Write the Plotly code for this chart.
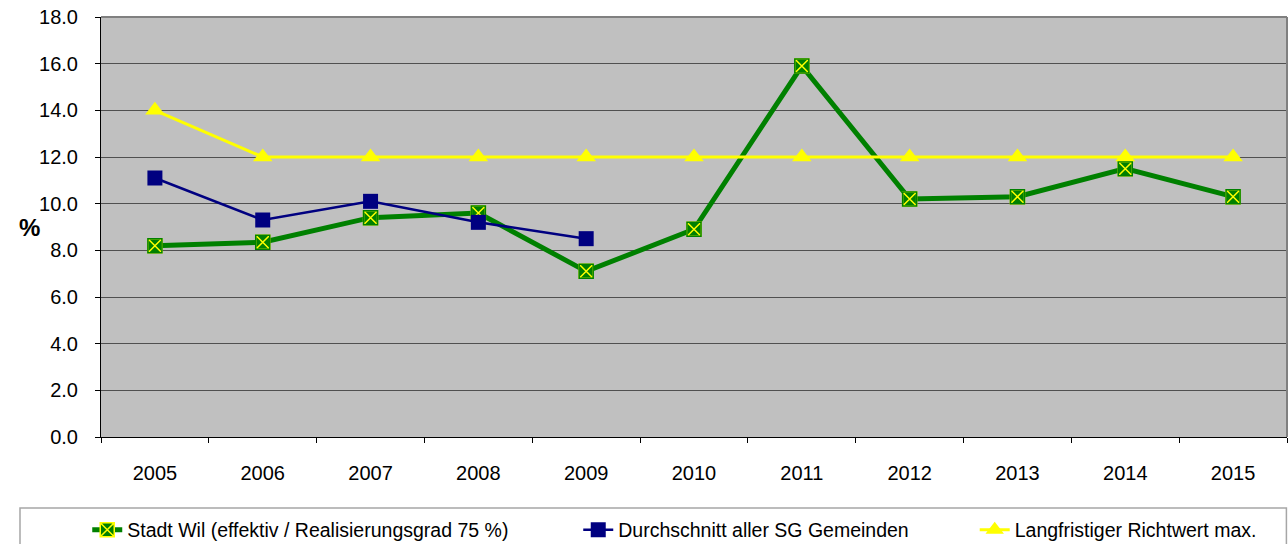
import plotly.graph_objects as go

# ---- data ----
years = ["2005", "2006", "2007", "2008", "2009", "2010", "2011", "2012", "2013", "2014", "2015"]
stadt_wil = [8.2, 8.35, 9.4, 9.6, 7.1, 8.9, 15.9, 10.2, 10.3, 11.5, 10.3]
durchschnitt_years = ["2005", "2006", "2007", "2008", "2009"]
durchschnitt = [11.1, 9.3, 10.1, 9.2, 8.5]
richtwert = [14.0, 12.0, 12.0, 12.0, 12.0, 12.0, 12.0, 12.0, 12.0, 12.0, 12.0]
y_ticks = [0, 2, 4, 6, 8, 10, 12, 14, 16, 18]

name_wil = "Stadt Wil (effektiv / Realisierungsgrad 75 %)"
name_sg = "Durchschnitt aller SG Gemeinden"
name_rw = "Langfristiger Richtwert max."

FONT = "Liberation Sans, Arial, sans-serif"

fig = go.Figure()
fig.add_trace(go.Scatter(
    x=years, y=stadt_wil, name=name_wil, mode="lines+markers",
    line=dict(color="#008000", width=5),
    marker=dict(symbol="square-x", size=14, color="#008000",
                line=dict(color="#FFFF00", width=1.5)),
    legend="legend",
))
# green outline over the yellow square edge (X stays yellow)
fig.add_trace(go.Scatter(
    x=years, y=stadt_wil, mode="markers", showlegend=False, hoverinfo="skip",
    marker=dict(symbol="square-open", size=14, color="#008000",
                line=dict(color="#008000", width=1.5)),
))
fig.add_trace(go.Scatter(
    x=durchschnitt_years, y=durchschnitt, name=name_sg, mode="lines+markers",
    line=dict(color="#000080", width=2.5),
    marker=dict(symbol="square", size=15, color="#000080"),
    legend="legend2",
))
fig.add_trace(go.Scatter(
    x=years, y=richtwert, name=name_rw, mode="lines+markers",
    line=dict(color="#FFFF00", width=3),
    marker=dict(symbol="triangle-up", size=17, color="#FFFF00"),
    legend="legend3",
))

legend_common = dict(
    orientation="h", xanchor="left", yanchor="middle",
    xref="paper", yref="container", y=0.0257,
    font=dict(family=FONT, size=19.5, color="#000000"),
    bgcolor="rgba(0,0,0,0)", borderwidth=0,
)

fig.update_layout(
    width=1288, height=544,
    margin=dict(l=101, r=1, t=17, b=107),
    paper_bgcolor="#FFFFFF",
    plot_bgcolor="#C0C0C0",
    font=dict(family=FONT, size=20, color="#000000"),
    showlegend=True,
    legend=dict(x=-0.0116, **legend_common),
    legend2=dict(x=0.4024, **legend_common),
    legend3=dict(x=0.7367, **legend_common),
    xaxis=dict(
        type="category", categoryorder="array", categoryarray=years,
        range=[-0.5, len(years) - 0.5],
        showgrid=False, zeroline=False,
        showline=True, linecolor="#000000", linewidth=1,
        ticks="outside", tickson="boundaries", ticklen=5, tickcolor="#000000",
        ticklabelstandoff=18,
        tickfont=dict(family=FONT, size=20),
    ),
    yaxis=dict(
        range=[0, 18], tickvals=y_ticks, tickformat=".1f",
        showgrid=True, gridcolor="#505050", gridwidth=1,
        zeroline=False,
        showline=True, linecolor="#000000", linewidth=1,
        ticks="outside", ticklen=5, tickcolor="#000000",
        ticklabelstandoff=13,
        tickfont=dict(family=FONT, size=20),
    ),
    shapes=[
        dict(type="line", xref="paper", yref="paper", x0=0, x1=1, y0=1, y1=1,
             line=dict(color="#808080", width=2), layer="above"),
        dict(type="line", xref="paper", yref="paper", x0=1, x1=1, y0=0, y1=1,
             line=dict(color="#808080", width=2), layer="above"),
        dict(type="rect", xref="paper", yref="paper",
             x0=-0.0683, x1=0.9995, y0=-0.169, y1=-0.30,
             line=dict(color="#A6A6A6", width=1.5), fillcolor="rgba(0,0,0,0)",
             layer="below"),
    ],
    annotations=[
        dict(text="<b>%</b>", xref="paper", yref="paper", x=-0.06, y=0.498,
             showarrow=False, xanchor="center", yanchor="middle",
             font=dict(family=FONT, size=24, color="#000000")),
    ],
)

fig.write_html("out.html", config={"displayModeBar": False},
               post_script="document.body.style.margin='0';")
